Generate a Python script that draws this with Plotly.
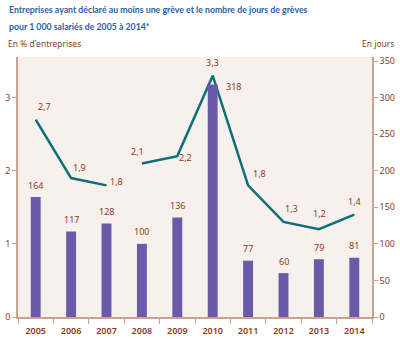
import plotly.graph_objects as go

years = ["2005", "2006", "2007", "2008", "2009", "2010", "2011", "2012", "2013", "2014"]
jours = [164, 117, 128, 100, 136, 318, 77, 60, 79, 81]
pct = [2.7, 1.9, 1.8, 2.1, 2.2, 3.3, 1.8, 1.3, 1.2, 1.4]
break_after = 3  # line is interrupted between 2007 and 2008
title_lines = ["Entreprises ayant déclaré au moins une grève et le nombre de jours de grèves",
               "pour 1 000 salariés de 2005 à 2014*"]

BROWN = "#8a3b1c"
AXIS = "#c9a293"
BAR = "#6a5aa8"
LINE = "#0d6f78"
TITLE = "#2b5ca8"
TFONT = "Lato, Roboto, sans-serif"
LFONT = "Noto Sans, Open Sans, sans-serif"

L, R, T, B, W, H = 18, 28, 57, 22, 400, 339
PW, PH = W - L - R, H - T - B
def px(x): return (x - L) / PW
def py(y): return (H - B - y) / PH

fig = go.Figure()
fig.add_trace(go.Bar(x=years, y=jours, yaxis="y2", marker=dict(color=BAR, line=dict(width=0)),
                     width=0.28, hoverinfo="skip"))
fig.add_trace(go.Scatter(x=years[:break_after], y=pct[:break_after], mode="lines",
                         line=dict(color=LINE, width=2.5), yaxis="y"))
fig.add_trace(go.Scatter(x=years[break_after:], y=pct[break_after:], mode="lines",
                         line=dict(color=LINE, width=2.5), yaxis="y"))

lab_font = dict(size=9, color=BROWN, family=LFONT)
ann = []
for i, v in enumerate(jours):
    if years[i] == "2010":
        ann.append(dict(x=i, y=v, yref="y2", text=str(v), showarrow=False, xshift=21,
                        yanchor="middle", yshift=-2, font=lab_font))
    else:
        ann.append(dict(x=i, y=v, yref="y2", text=str(v), showarrow=False, yanchor="middle",
                        yshift=12, font=lab_font))
offs = {"2005": (9, 7), "2006": (8, 5), "2007": (10, -2), "2008": (-4, 6), "2009": (8, -7),
        "2010": (0, 7), "2011": (11, 6), "2012": (8, 7), "2013": (1, 10), "2014": (0, 7)}
for i, v in enumerate(pct):
    dx, dy = offs[years[i]]
    ann.append(dict(x=i, y=v, yref="y", text=f"{v:.1f}".replace(".", ","), showarrow=False,
                    xshift=dx, yshift=dy + 6, yanchor="middle", font=lab_font))
for k, (t, ypx) in enumerate(zip(title_lines, [10, 27])):
    ann.append(dict(x=px(7), y=py(ypx), xref="paper", yref="paper", xanchor="left", yanchor="middle",
                    showarrow=False, text=t, font=dict(size=8.75, color=TITLE, family=TFONT, weight=700)))
ann += [
    dict(x=px(6), y=py(44), xref="paper", yref="paper", xanchor="left", yanchor="middle", showarrow=False,
         text="En % d'entreprises", font=dict(size=8.5, color=BROWN, family=LFONT)),
    dict(x=px(396), y=py(44), xref="paper", yref="paper", xanchor="right", yanchor="middle", showarrow=False,
         text="En jours", font=dict(size=8.5, color=BROWN, family=LFONT)),
]

tickf = dict(size=9, color=BROWN, family=LFONT)
fig.update_layout(
    width=W, height=H,
    margin=dict(l=L, r=R, t=T, b=B),
    paper_bgcolor="white", plot_bgcolor="#f8f0ec",
    showlegend=False,
    annotations=ann,
    xaxis=dict(type="category", range=[-0.5, 9.5], tickson="boundaries", ticks="outside", ticklen=5,
               tickcolor=AXIS, showline=True, linecolor=AXIS, linewidth=1.5, showgrid=False,
               automargin=False, ticklabelstandoff=4,
               tickfont=dict(size=9, color=BROWN, family=LFONT, weight=600)),
    yaxis=dict(range=[0, 3.555], tickvals=[0, 1, 2, 3], ticks="outside", ticklen=4, tickcolor=AXIS,
               showline=True, linecolor=AXIS, linewidth=1.5, showgrid=False, zeroline=False,
               automargin=False, tickfont=tickf),
    yaxis2=dict(range=[0, 355.5], tickvals=[0, 50, 100, 150, 200, 250, 300, 350], overlaying="y",
                side="right", ticks="outside", ticklen=4, tickcolor=AXIS, showline=True,
                linecolor=AXIS, linewidth=1.5, showgrid=False, zeroline=False,
                automargin=False, tickfont=tickf),
)
fig.write_html("out.html")
